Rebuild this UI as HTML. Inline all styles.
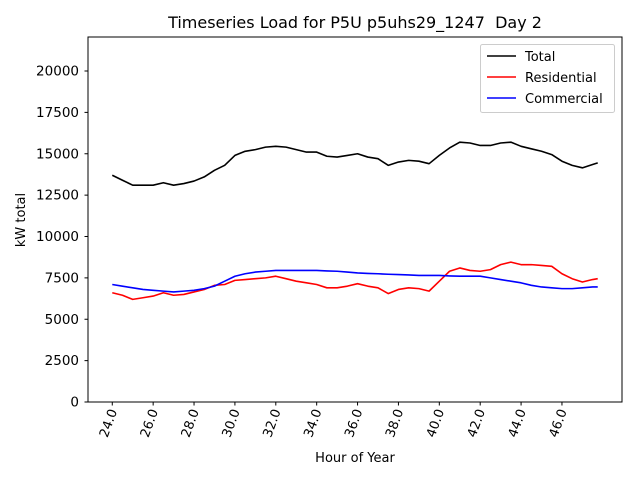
<!DOCTYPE html>
<html><head><meta charset="utf-8"><style>body{margin:0;background:#fff}svg{font-family:"DejaVu Sans","Liberation Sans",sans-serif}</style></head>
<body>
<svg id="c" width="640" height="480" xmlns="http://www.w3.org/2000/svg"></svg>
<script>
const hours=[24,24.5,25,25.5,26,26.5,27,27.5,28,28.5,29,29.5,30,30.5,31,31.5,32,32.5,33,33.5,34,34.5,35,35.5,36,36.5,37,37.5,38,38.5,39,39.5,40,40.5,41,41.5,42,42.5,43,43.5,44,44.5,45,45.5,46,46.5,47,47.5,47.75];
const total=[13700,13400,13100,13100,13100,13250,13100,13200,13350,13600,14000,14300,14900,15150,15250,15400,15450,15400,15250,15100,15100,14850,14800,14900,15000,14800,14700,14300,14500,14600,14550,14400,14900,15350,15700,15650,15500,15500,15650,15700,15450,15300,15150,14950,14550,14300,14150,14350,14450];
const residential=[6600,6450,6200,6300,6400,6600,6450,6500,6650,6800,7050,7100,7350,7400,7450,7500,7600,7450,7300,7200,7100,6900,6900,7000,7150,7000,6900,6550,6800,6900,6850,6700,7300,7900,8100,7950,7900,8000,8300,8450,8300,8300,8250,8200,7750,7450,7250,7400,7450];
const commercial=[7100,7000,6900,6800,6750,6700,6650,6700,6750,6850,7000,7300,7600,7750,7850,7900,7950,7950,7950,7950,7950,7920,7900,7850,7800,7770,7750,7720,7700,7680,7650,7650,7650,7620,7600,7600,7600,7500,7400,7300,7200,7050,6950,6900,6850,6850,6900,6950,6950];
const yTicks=[0,2500,5000,7500,10000,12500,15000,17500,20000];
const xTicks=[24,26,28,30,32,34,36,38,40,42,44,46];
const L=88,R=622,T=37,B=402,x0=22.8125,x1=48.9375,y0=0,y1=22055;
const sx=v=>L+(v-x0)/(x1-x0)*(R-L), sy=v=>B-(v-y0)/(y1-y0)*(B-T);
const svg=document.getElementById('c');const NS='http://www.w3.org/2000/svg';
function mk(t,a,txt){const e=document.createElementNS(NS,t);for(const k in a)e.setAttribute(k,a[k]);if(txt!==undefined)e.textContent=txt;svg.appendChild(e);return e;}
let e;
e=mk('rect',{x:L,y:T,width:R-L,height:B-T,fill:'#fff',stroke:'#000','stroke-width':1});


yTicks.forEach(v=>{const y=sy(v);
 e=mk('line',{x1:L-3.5,x2:L,y1:y,y2:y,stroke:'#000'});
 
 
 e=mk('text',{x:L-9,y:y+4.5,'text-anchor':'end','font-size':13.5},String(v));
 
 });
xTicks.forEach(v=>{const x=sx(v);
 e=mk('line',{x1:x,x2:x,y1:B,y2:B+3.5,stroke:'#000'});
 
 
 e=mk('text',{x:0,y:0,'text-anchor':'end','font-size':13,transform:`translate(${x+5},${B+9}) rotate(-70)`},v.toFixed(1));
 
 });
[[total,'#000','total-line'],[residential,'#f00','residential-line'],[commercial,'#00f','commercial-line']].forEach(([d,c,n])=>{
 e=mk('polyline',{points:d.map((v,i)=>sx(hours[i])+','+sy(v)).join(' '),fill:'none',stroke:c,'stroke-width':1.6,'stroke-linejoin':'round'});
 
 });
e=mk('text',{x:355,y:28,'text-anchor':'middle','font-size':16},'Timeseries Load for P5U p5uhs29_1247 \u00a0Day 2');


e=mk('text',{x:355,y:462,'text-anchor':'middle','font-size':13},'Hour of Year');


e=mk('text',{x:0,y:0,'text-anchor':'middle','font-size':13,transform:'translate(25,220) rotate(-90)'},'kW total');


e=mk('rect',{x:480.5,y:44.5,width:134,height:68,rx:2,fill:'#fff',stroke:'#ccc'});


[['Total','#000'],['Residential','#f00'],['Commercial','#00f']].forEach(([n,c],i)=>{const y=56+i*21;
 e=mk('line',{x1:487,x2:516,y1:y,y2:y,stroke:c,'stroke-width':1.6});
 
 
 e=mk('text',{x:525,y:y+5,'font-size':13},n);
 
 });
</script>
</body></html>
